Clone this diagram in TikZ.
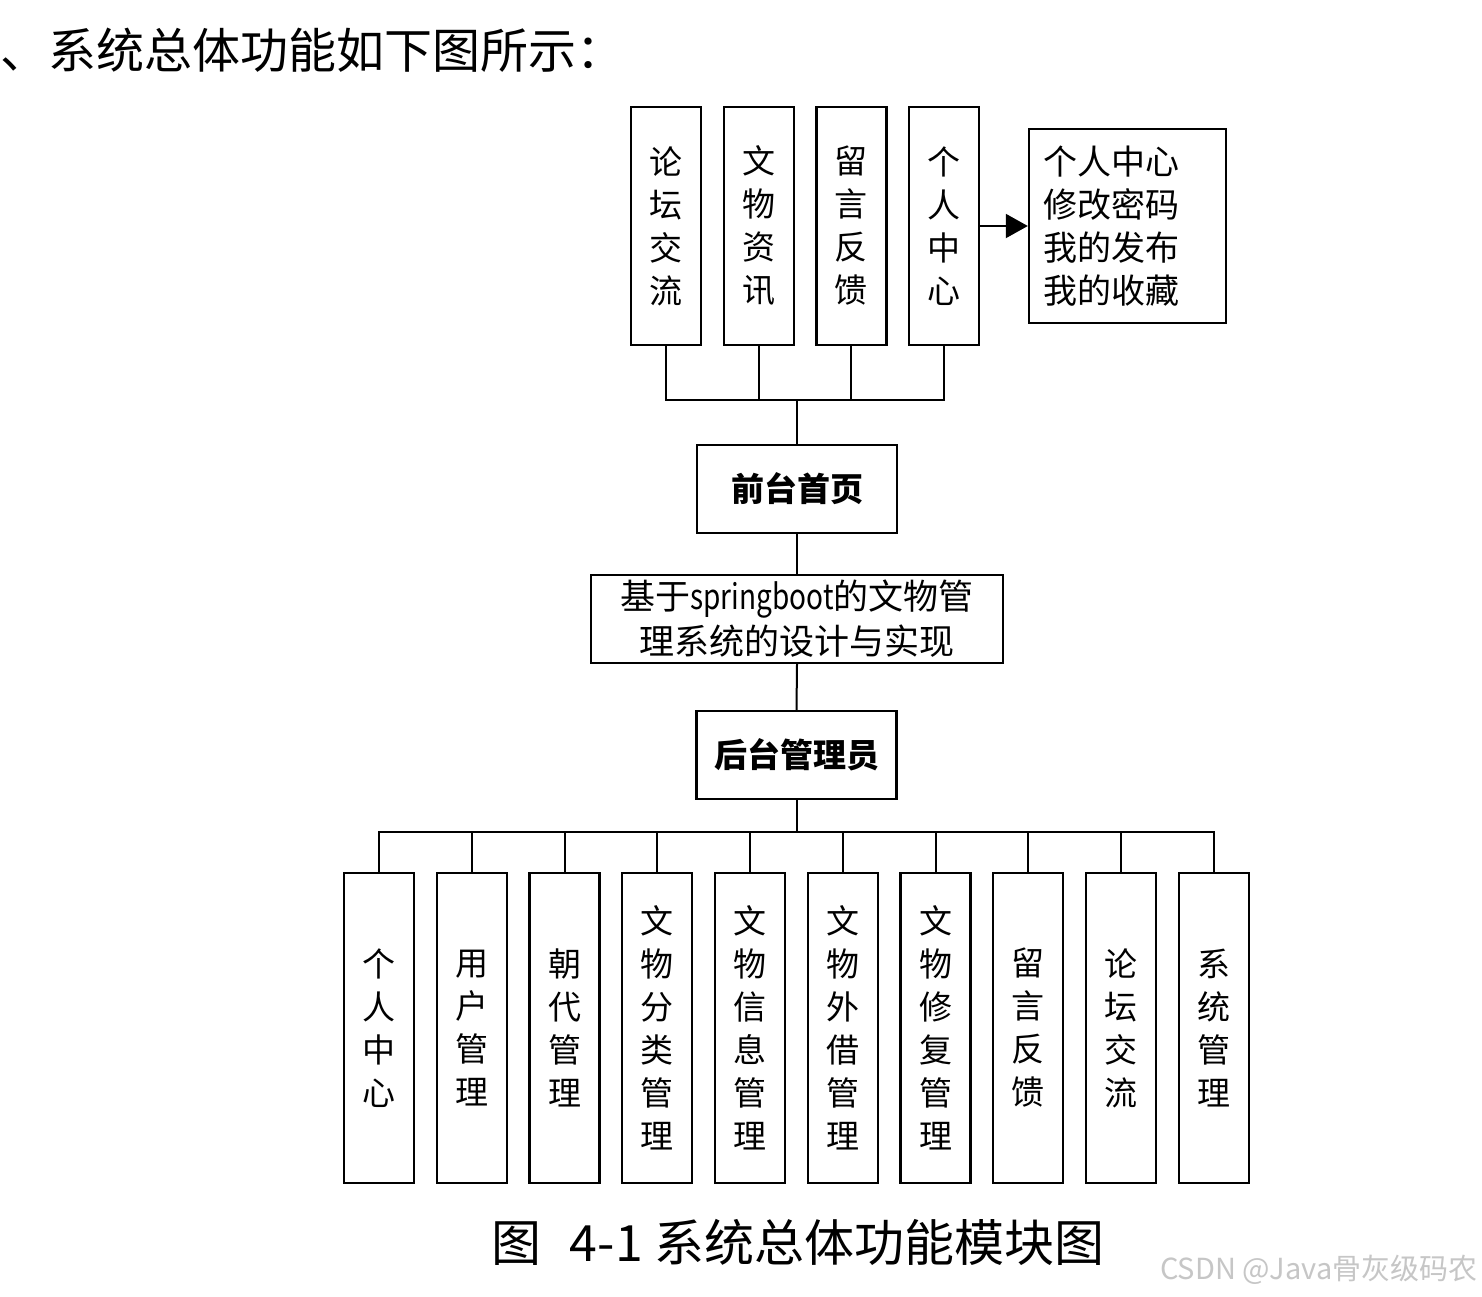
\documentclass[tikz,border=0pt]{standalone}
\usepackage{fontspec}
\setmainfont{Noto Sans CJK SC}
\usetikzlibrary{arrows.meta}
\tikzset{
  box/.style={draw, line width=1.2pt, inner sep=0pt, align=center},
  vbox/.style={box, minimum width=35pt, minimum height=119pt, font=\fontsize{16.5pt}{21.5pt}\selectfont},
  hbox/.style={box, minimum width=100pt, minimum height=44pt, font=\fontsize{16.5pt}{20pt}\selectfont\bfseries},
  link/.style={line width=1pt},
}
\begin{document}
\begin{tikzpicture}[x=0.5pt, y=-0.5pt]
        \useasboundingbox[fill=white] (0,0) rectangle (1482,1296);

        % --- 标题 ---
        \node[anchor=west, inner sep=0pt, font=\fontsize{24pt}{28pt}\selectfont] (title) at (0,50) {、系统总体功能如下图所示：};

        % --- 前台 ---
        \foreach \t [count=\i] in {{论\\坛\\交\\流}, {文\\物\\资\\讯}, {留\\言\\反\\馈}, {个\\人\\中\\心}} {
            \node[vbox] (f\i) at ({666+92.7*(\i-1)}, 226) {\t};
        }
        \node[box, minimum width=98.5pt, minimum height=97pt, inner xsep=7pt, text width=84.5pt, align=left,
              font=\fontsize{17pt}{21.5pt}\selectfont] (grzx) at (1127.5, 226) {个人中心\\修改密码\\我的发布\\我的收藏};
        \draw[link, -{Triangle[length=11pt, width=12pt]}] (f4.east) -- (grzx.west);

        \node[hbox] (qt) at (797, 489) {前台首页};
        \coordinate (topbus) at (797, 400);
        \foreach \i in {1,...,4} {
            \draw[link] (f\i.south) |- (topbus);
        }
        \draw[link] (topbus) -- (qt.north);

        % --- 系统 ---
        \node[box, minimum width=206pt, minimum height=44pt, font=\fontsize{17.5pt}{22.5pt}\selectfont] (sys) at (797, 619)
            {基于\scalebox{0.8}[1]{springboot}的文物管\\理系统的设计与实现};
        \draw[link] (qt.south) -- (sys.north);

        % --- 后台 ---
        \node[hbox] (ht) at (796.5, 755) {后台管理员};
        \draw[link] (sys.south) -- (ht.north);
        \coordinate (botbus) at (796.5, 832);
        \draw[link] (ht.south) -- (botbus);
        \foreach \t [count=\i] in {{个\\人\\中\\心}, {用\\户\\管\\理}, {朝\\代\\管\\理}, {文\\物\\分\\类\\管\\理},
                                  {文\\物\\信\\息\\管\\理}, {文\\物\\外\\借\\管\\理}, {文\\物\\修\\复\\管\\理},
                                  {留\\言\\反\\馈}, {论\\坛\\交\\流}, {系\\统\\管\\理}} {
            \node[vbox, minimum height=155pt] (b\i) at ({379+92.75*(\i-1)}, 1028) {\t};
            \draw[link] (b\i.north) |- (botbus);
        }

        % --- 图题 ---
        \node[font=\fontsize{25pt}{28pt}\selectfont] (cap) at (798, 1242) {图\hspace{14pt}4-1 系统总体功能模块图};
        \node[anchor=east, inner sep=0pt, text=gray!45, font=\fontsize{14.5pt}{17pt}\selectfont] (mark) at (1478, 1270) {CSDN @Java骨灰级码农};

    \end{tikzpicture}
\end{document}
